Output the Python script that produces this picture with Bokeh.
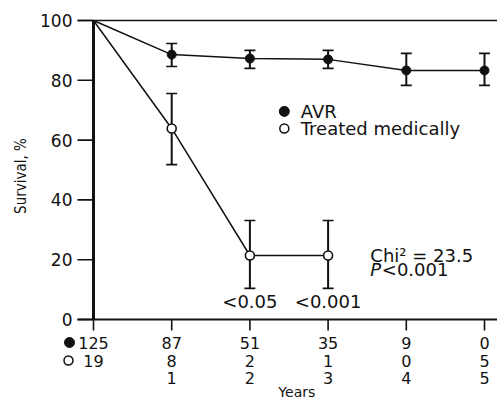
import math
from bokeh.plotting import figure
from bokeh.models import Range1d, ColumnDataSource, Whisker, TeeHead
from bokeh.core.properties import value
from bokeh.embed import file_html
from bokeh.resources import INLINE

# Survival data (percent) by year of follow-up
years = [0, 1, 2, 3, 4, 5]
avr_survival = [100, 88.6, 87.3, 87.0, 83.3, 83.3]
avr_err_years = [1, 2, 3, 4, 5]
avr_upper = [92.3, 90.0, 90.0, 89.0, 89.0]
avr_lower = [84.6, 84.0, 84.0, 78.3, 78.3]

med_years = [0, 1, 2, 3]
med_survival = [100, 63.9, 21.4, 21.4]
med_err_years = [1, 2, 3]
med_upper = [75.6, 33.1, 33.1]
med_lower = [51.8, 10.4, 10.4]

# Numbers at risk and year labels under the axis
at_risk_avr = ["125", "87", "51", "35", "9", "0"]
at_risk_med = ["19", "8", "2", "1", "0", "5"]
year_labels = ["", "1", "2", "3", "4", "5"]
y_ticks = [0, 20, 40, 60, 80, 100]
p_years = [2, 3]
p_labels = ["<0.05", "<0.001"]

W, H = 497, 401
X0_PX, XSTEP = 93.0, 78.2      # pixel of year 0, pixels per year
Y0_PX, YSTEP = 319.0, 2.99     # pixel of 0 %, pixels per percent


def dx(px):
    """horizontal pixel distance -> data units"""
    return px / XSTEP


def dy(px):
    """vertical pixel distance -> data units"""
    return px / YSTEP


p = figure(width=W, height=H, output_backend="svg", toolbar_location=None,
           x_axis_type=None, y_axis_type=None, min_border=0,
           x_range=Range1d(-X0_PX / XSTEP, (W - X0_PX) / XSTEP),
           y_range=Range1d(-(H - Y0_PX) / YSTEP, Y0_PX / YSTEP))
p.outline_line_color = None
p.grid.visible = False
p.background_fill_color = "white"

FONT = value("DejaVu Sans")
INK = "#111111"
x_end = (W - X0_PX) / XSTEP

# axes
p.segment(x0=[0], y0=[0], x1=[0], y1=[100], line_color=INK, line_width=3)
p.segment(x0=[-dx(16)], y0=[0], x1=[x_end], y1=[0], line_color=INK, line_width=2.2)
p.segment(x0=[-dx(16)], y0=[100], x1=[x_end], y1=[100], line_color=INK, line_width=1.6)

# y ticks and labels
p.segment(x0=[-dx(16)] * len(y_ticks), y0=y_ticks, x1=[0] * len(y_ticks), y1=y_ticks,
          line_color=INK, line_width=1.6)
p.text(x=[-dx(21)] * len(y_ticks), y=y_ticks, text=[str(t) for t in y_ticks],
       text_font=FONT, text_font_size="17px", text_align="right",
       text_baseline="middle", text_color=INK)

# x ticks
p.segment(x0=years, y0=[0] * 6, x1=years, y1=[-dy(11)] * 6, line_color=INK, line_width=1.6)

# rows under the axis
p.text(x=years, y=[-dy(23)] * 6, text=at_risk_avr, text_font=FONT, text_font_size="16px",
       text_align="center", text_baseline="middle", text_color=INK)
p.text(x=years, y=[-dy(41)] * 6, text=at_risk_med, text_font=FONT, text_font_size="16px",
       text_align="center", text_baseline="middle", text_color=INK)
p.text(x=years, y=[-dy(58)] * 6, text=year_labels, text_font=FONT, text_font_size="16px",
       text_align="center", text_baseline="middle", text_color=INK)
p.scatter(x=[-dx(24)], y=[-dy(23)], size=10, marker="circle", fill_color=INK, line_color=INK)
p.scatter(x=[-dx(25)], y=[-dy(41)], size=9, marker="circle", fill_color="white",
          line_color=INK, line_width=1.5)
p.text(x=[2.6], y=[-dy(80)], text=["Years"], text_font=FONT, text_font_size="14px",
       text_align="center", text_baseline="bottom", text_color=INK)

# y axis title
p.text(x=[-dx(73)], y=[48], text=["Survival, %"],
       text_font=value("'Liberation Sans Narrow', 'DejaVu Sans Condensed', 'Liberation Sans'"),
       text_font_size="15px", text_align="center", text_baseline="middle",
       angle=math.pi / 2, text_color=INK)

# series lines
p.line(years, avr_survival, line_color=INK, line_width=1.5)
p.line(med_years, med_survival, line_color=INK, line_width=1.5)

# error bars
avr_src = ColumnDataSource(dict(x=avr_err_years, upper=avr_upper, lower=avr_lower))
med_src = ColumnDataSource(dict(x=med_err_years, upper=med_upper, lower=med_lower))
for src in (avr_src, med_src):
    p.add_layout(Whisker(source=src, base="x", upper="upper", lower="lower",
                         line_color=INK, line_width=2,
                         upper_head=TeeHead(size=11, line_width=1.6, line_color=INK),
                         lower_head=TeeHead(size=11, line_width=1.6, line_color=INK)))

# markers
p.scatter(years[1:], avr_survival[1:], size=9, marker="circle", fill_color=INK, line_color=INK)
p.scatter(med_years[1:], med_survival[1:], size=9, marker="circle", fill_color="white",
          line_color=INK, line_width=1.6)

# legend
p.scatter(x=[2.44], y=[69.6], size=10, marker="circle", fill_color=INK, line_color=INK)
p.scatter(x=[2.44], y=[63.9], size=9, marker="circle", fill_color="white", line_color=INK,
          line_width=1.5)
p.text(x=[2.65, 2.65], y=[69.6, 63.9], text=["AVR", "Treated medically"], text_font=FONT,
       text_font_size="18px", text_align="left", text_baseline="middle", text_color=INK)

# statistics
p.text(x=p_years, y=[-dy(-18)] * 2, text=p_labels, text_font=FONT, text_font_size="18px",
       text_align="center", text_baseline="middle", text_color=INK)
p.text(x=[3.54], y=[21.4], text=["Chi\u00b2 = 23.5"], text_font=FONT, text_font_size="18px",
       text_align="left", text_baseline="middle", text_color=INK)
p.text(x=[3.54], y=[16.6], text=["P"], text_font=FONT, text_font_size="18px",
       text_font_style="italic", text_align="left", text_baseline="middle", text_color=INK)
p.text(x=[3.54 + dx(11.5)], y=[16.6], text=["<0.001"], text_font=FONT, text_font_size="18px",
       text_align="left", text_baseline="middle", text_color=INK)

open("out.html", "w").write(file_html(p, INLINE))
